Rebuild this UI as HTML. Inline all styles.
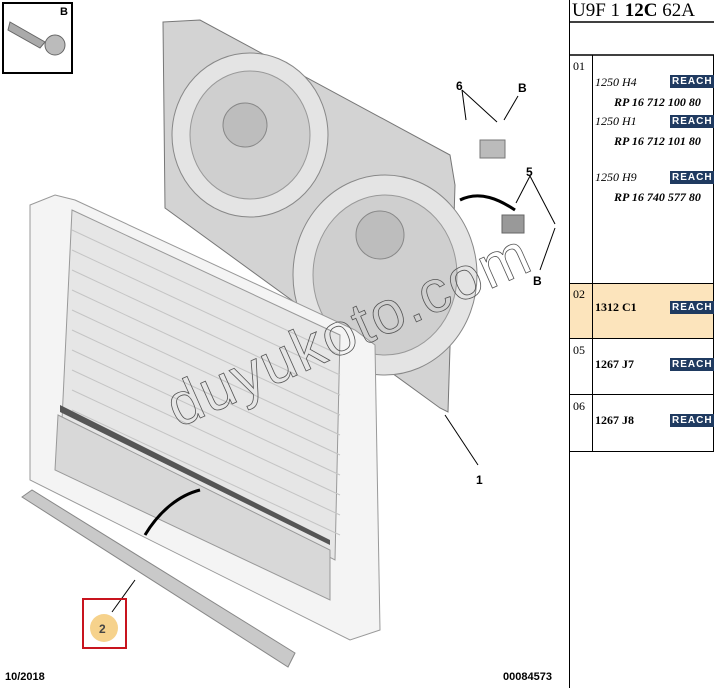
<!DOCTYPE html>
<html><head><style>
body{margin:0;width:714px;height:688px;background:#fff;overflow:hidden;font-family:"Liberation Sans",sans-serif;position:relative}
.t{position:absolute;font-family:"Liberation Serif",serif;font-size:12px;color:#000}
.r{position:absolute;background:#1f3a60;color:#fff;font:bold 10px "Liberation Sans",sans-serif;letter-spacing:1px;padding:1px 2px;line-height:11px}
</style></head><body>
<svg width="714" height="688" style="position:absolute;left:0;top:0">
<rect x="3" y="3" width="69" height="70" fill="#fff" stroke="#000" stroke-width="2"/>
<text x="60" y="15" font-size="11" font-weight="bold" font-family="Liberation Sans">B</text>
<path d="M10 22 L45 42 L40 48 L8 30 Z" fill="#aaa" stroke="#666"/>
<circle cx="55" cy="45" r="10" fill="#bbb" stroke="#666"/>
<polygon points="163,22 200,20 450,155 455,185 448,412 440,408 165,208" fill="#d3d3d3" stroke="#777"/>
<ellipse cx="250" cy="135" rx="78" ry="82" fill="#e4e4e4" stroke="#888"/>
<ellipse cx="250" cy="135" rx="60" ry="64" fill="#cfcfcf" stroke="#999"/>
<circle cx="245" cy="125" r="22" fill="#bdbdbd" stroke="#888"/>
<ellipse cx="385" cy="275" rx="92" ry="100" fill="#e4e4e4" stroke="#888"/>
<ellipse cx="385" cy="275" rx="72" ry="80" fill="#cfcfcf" stroke="#999"/>
<circle cx="380" cy="235" r="24" fill="#bdbdbd" stroke="#888"/>
<polygon points="55,195 75,200 355,330 375,345 380,630 350,640 30,480 30,205" fill="#f4f4f4" stroke="#999"/>
<polygon points="72,210 340,335 335,560 62,420" fill="#e6e6e6" stroke="#999"/>
<g stroke="#c4c4c4" stroke-width="1">
<line x1="72" y1="230" x2="340" y2="355"/><line x1="72" y1="250" x2="340" y2="375"/><line x1="72" y1="270" x2="340" y2="395"/><line x1="72" y1="290" x2="340" y2="415"/><line x1="72" y1="310" x2="340" y2="435"/><line x1="72" y1="330" x2="340" y2="455"/><line x1="72" y1="350" x2="340" y2="475"/><line x1="72" y1="370" x2="340" y2="495"/><line x1="72" y1="390" x2="340" y2="515"/><line x1="72" y1="410" x2="340" y2="535"/>
</g>
<polygon points="60,405 330,540 330,545 60,412" fill="#555"/>
<polygon points="58,415 330,550 330,600 55,470" fill="#d8d8d8" stroke="#999"/>
<polygon points="22,497 32,490 295,653 288,667" fill="#c9c9c9" stroke="#888"/>
<path d="M145,535 C160,510 180,495 200,490" stroke="#000" stroke-width="3" fill="none"/>
<path d="M460,200 C480,190 500,200 515,210" stroke="#000" stroke-width="3" fill="none"/>
<rect x="480" y="140" width="25" height="18" fill="#bbb" stroke="#777"/>
<rect x="502" y="215" width="22" height="18" fill="#999" stroke="#666"/>
<g stroke="#000" stroke-width="1">
<line x1="462" y1="90" x2="466" y2="120"/><line x1="462" y1="90" x2="497" y2="122"/>
<line x1="518" y1="96" x2="504" y2="120"/>
<line x1="530" y1="176" x2="516" y2="203"/><line x1="530" y1="176" x2="555" y2="224"/>
<line x1="555" y1="228" x2="540" y2="270"/>
<line x1="445" y1="415" x2="478" y2="465"/>
<line x1="112" y1="612" x2="135" y2="580"/>
</g>
<g font-family="Liberation Sans" font-weight="bold" font-size="12">
<text x="456" y="90">6</text><text x="518" y="92">B</text><text x="526" y="176">5</text><text x="533" y="285">B</text><text x="476" y="484">1</text>
</g>
<rect x="83" y="599" width="43" height="49" fill="none" stroke="#c8141e" stroke-width="2"/>
<circle cx="104" cy="628" r="14" fill="#f6d28c"/>
<text x="99" y="633" font-family="Liberation Sans" font-weight="bold" font-size="12" fill="#444">2</text>
<text transform="translate(178,428) rotate(-24)" font-family="Liberation Sans" font-size="60" fill="none" stroke="#555" stroke-width="0.8" textLength="390">duyukoto.com</text>
<text x="5" y="680" font-family="Liberation Sans" font-weight="bold" font-size="11">10/2018</text>
<text x="503" y="680" font-family="Liberation Sans" font-weight="bold" font-size="11">00084573</text>
<line x1="569.5" y1="0" x2="569.5" y2="688" stroke="#000"/>
<line x1="569" y1="22" x2="714" y2="22" stroke="#000" stroke-width="1.5"/>
<line x1="569" y1="55" x2="714" y2="55" stroke="#000" stroke-width="1.5"/>
<rect x="570" y="283" width="143" height="55" fill="#fce4bc"/>
<g stroke="#000" stroke-width="1" fill="none">
<line x1="592.5" y1="55" x2="592.5" y2="451"/><line x1="713.5" y1="55" x2="713.5" y2="451"/>
<line x1="569" y1="283.5" x2="714" y2="283.5"/><line x1="569" y1="338.5" x2="714" y2="338.5"/>
<line x1="569" y1="394.5" x2="714" y2="394.5"/><line x1="569" y1="451.5" x2="714" y2="451.5"/>
</g>
</svg>
<div class="t" style="left:572px;top:0px;font-size:19px">U9F 1 <b>12C</b> 62A</div>
<div class="t" style="left:573px;top:59px">01</div>
<div class="t" style="left:573px;top:287px">02</div>
<div class="t" style="left:573px;top:343px">05</div>
<div class="t" style="left:573px;top:399px">06</div>
<div class="t" style="left:595px;top:75px;font-style:italic">1250 H4</div><div class="r" style="left:670px;top:75px">REACH</div>
<div class="t" style="left:614px;top:95px;font-style:italic;font-weight:bold">RP 16 712 100 80</div>
<div class="t" style="left:595px;top:114px;font-style:italic">1250 H1</div><div class="r" style="left:670px;top:115px">REACH</div>
<div class="t" style="left:614px;top:134px;font-style:italic;font-weight:bold">RP 16 712 101 80</div>
<div class="t" style="left:595px;top:170px;font-style:italic">1250 H9</div><div class="r" style="left:670px;top:171px">REACH</div>
<div class="t" style="left:614px;top:190px;font-style:italic;font-weight:bold">RP 16 740 577 80</div>
<div class="t" style="left:595px;top:300px;font-weight:bold">1312 C1</div><div class="r" style="left:670px;top:301px">REACH</div>
<div class="t" style="left:595px;top:357px;font-weight:bold">1267 J7</div><div class="r" style="left:670px;top:358px">REACH</div>
<div class="t" style="left:595px;top:413px;font-weight:bold">1267 J8</div><div class="r" style="left:670px;top:414px">REACH</div>
</body></html>
